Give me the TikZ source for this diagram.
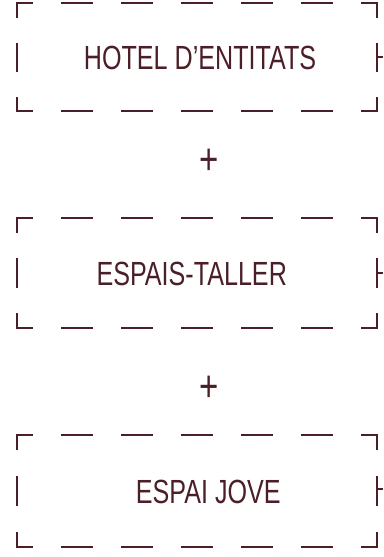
\documentclass[tikz,border=0pt]{standalone}
\usepackage{fontspec}
\setmainfont{Liberation Sans}[FakeStretch=0.75]
\definecolor{wine}{HTML}{4B1F27}
\begin{document}
\begin{tikzpicture}[x=1pt,y=-1pt,line width=2pt,draw=wine,
  hside/.style={dash pattern=on 30pt off 30pt,dash phase=15pt,line cap=rect},
  label/.style={inner sep=0pt,anchor=base,text=wine,font=\fontsize{33.5}{38}\selectfont},
  plus/.style={inner sep=0pt,anchor=base,text=wine,font=\fontsize{44}{50}\selectfont}]
\useasboundingbox (0,0) rectangle (383,557);
% box 1
\coordinate (a1) at (17,3);   \coordinate (b1) at (377,3);
\coordinate (c1) at (377,111);\coordinate (d1) at (17,111);
\coordinate (s1) at (383,57);
\draw[hside] (a1) -- (b1);
\draw[hside] (d1) -- (c1);
\draw[dash pattern=on 27pt off 27pt,dash phase=13.5pt,line cap=rect] (a1) -- (d1);
\draw[dash pattern=on 27pt off 27pt,dash phase=13.5pt,line cap=rect] (b1) -- (c1);
\draw (b1 |- s1) -- (s1);
\node[label] (t1) at (200,69.3) {HOTEL D’ENTITATS};
% plus 1
\node[plus] (p1) at (209,174.7) {+};
% box 2
\coordinate (a2) at (17,218);  \coordinate (b2) at (377,218);
\coordinate (c2) at (377,328); \coordinate (d2) at (17,328);
\coordinate (s2) at (383,273);
\draw[hside] (a2) -- (b2);
\draw[hside] (d2) -- (c2);
\draw[dash pattern=on 27.5pt off 27.5pt,dash phase=13.75pt,line cap=rect] (a2) -- (d2);
\draw[dash pattern=on 27.5pt off 27.5pt,dash phase=13.75pt,line cap=rect] (b2) -- (c2);
\draw (b2 |- s2) -- (s2);
\node[label] (t2) at (191.7,285) {ESPAIS-TALLER};
% plus 2
\node[plus] (p2) at (209,401.7) {+};
% box 3
\coordinate (a3) at (17,435);  \coordinate (b3) at (377,435);
\coordinate (c3) at (377,547); \coordinate (d3) at (17,547);
\coordinate (s3) at (383,489);
\draw[hside] (a3) -- (b3);
\draw[hside] (d3) -- (c3);
\draw[dash pattern=on 28pt off 28pt,dash phase=14pt,line cap=rect] (a3) -- (d3);
\draw[dash pattern=on 28pt off 28pt,dash phase=14pt,line cap=rect] (b3) -- (c3);
\draw (b3 |- s3) -- (s3);
\node[label] (t3) at (208.3,503) {ESPAI JOVE};
\end{tikzpicture}
\end{document}
